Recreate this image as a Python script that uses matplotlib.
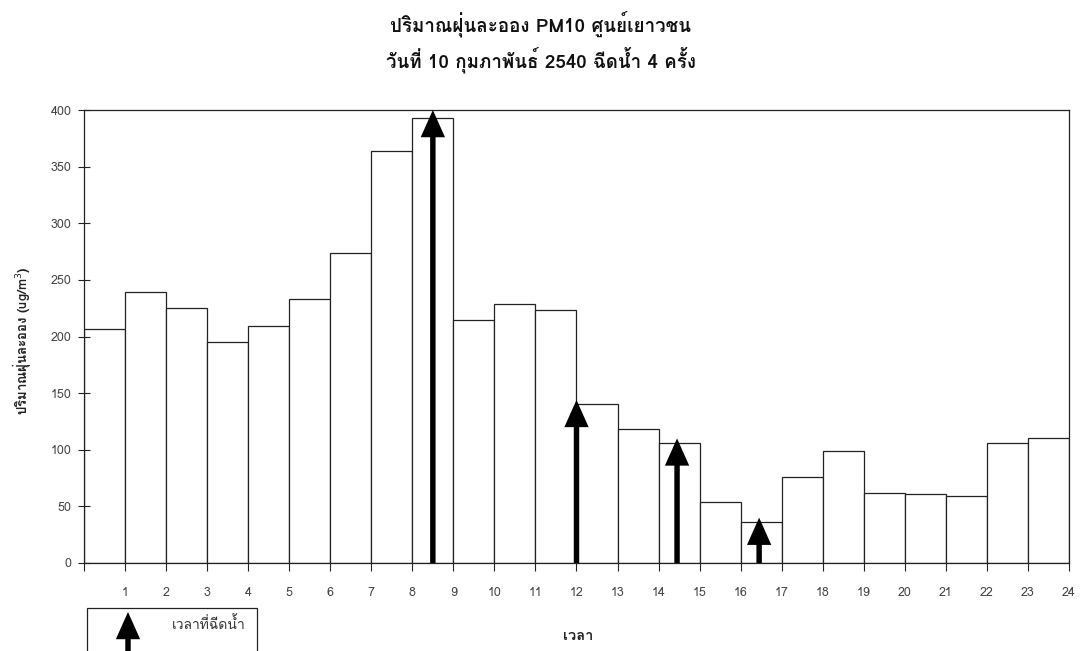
import matplotlib
matplotlib.use("Agg")
import matplotlib.pyplot as plt
from matplotlib import font_manager
from matplotlib.ft2font import FT2Font
from matplotlib.patches import Rectangle, FancyArrowPatch

# PM10 per hour (bar i covers hour i-1 .. i)
hours = list(range(1, 25))
pm10 = [207, 239, 225, 195, 209, 233, 274, 364, 393, 215, 229, 223,
        140, 118, 106, 54, 36, 76, 99, 62, 61, 59, 106, 110]

# times water was sprayed, and the arrow height
spray_time = [8.5, 12, 14.45, 16.45]
spray_tip = [400, 144, 110, 40]

title = "ปริมาณฝุ่นละออง PM10 ศูนย์เยาวชน\nวันที่ 10 กุมภาพันธ์ 2540 ฉีดน้ำ 4 ครั้ง"
ylabel = "ปริมาณฝุ่นละออง (ug/m$^3$)"
xlabel = "เวลา"
legend_text = "เวลาที่ฉีดน้ำ"


def thai_font():
    names = []
    for f in font_manager.fontManager.ttflist:
        try:
            if 0x0E01 in FT2Font(f.fname).get_charmap():
                names.append(f.name)
        except Exception:
            pass
    if "Loma" in names:
        return "Loma"
    return names[0] if names else "DejaVu Sans"


plt.rcParams['font.family'] = [thai_font(), 'DejaVu Sans']

fig = plt.figure(figsize=(10.81, 6.51), dpi=100)
ax = fig.add_axes([0.0777, 0.1352, 0.9112, 0.6958])

ax.bar([h - 0.5 for h in hours], pm10, width=1.0, color="white",
       edgecolor="#222222", linewidth=0.9)

arrow_style = "simple,head_length=1.4,head_width=1.25,tail_width=0.28"
for x, tip in zip(spray_time, spray_tip):
    ax.annotate("", xy=(x, tip), xytext=(x, 0),
                arrowprops=dict(arrowstyle=arrow_style, mutation_scale=14,
                                fc="black", ec="none", shrinkA=0, shrinkB=0))

ax.set_xlim(0, 24)
ax.set_ylim(0, 400)
ax.set_xticks(range(0, 25))
ax.set_xticklabels([""] + [str(h) for h in hours])
ax.set_yticks(range(0, 401, 50))
ax.tick_params(axis="x", direction="out", length=6, width=0.8, pad=11,
               labelsize=9, labelcolor="#444444", color="#222222")
ax.tick_params(axis="y", direction="inout", length=8, width=0.8, pad=5,
               labelsize=9, labelcolor="#444444", color="#222222")
for s in ax.spines.values():
    s.set_linewidth(0.9)
    s.set_color("#222222")

ax.set_ylabel(ylabel, fontsize=9.5, fontweight="bold", color="#222222")
ax.yaxis.set_label_coords(-0.052, 0.49)
ax.set_xlabel(xlabel, fontsize=10.5, fontweight="bold", color="#222222")
ax.xaxis.set_label_coords(0.502, -0.146)

fig.text(0.5, 1 - 42 / 651, title, ha="center", va="center", fontsize=13.5,
         fontweight="bold", linespacing=1.45, color="#111111")

# hand-made legend box at bottom left, cut by the figure edge
fig.patches.append(Rectangle((87 / 1081, -0.05), 170 / 1081, 0.05 + 43 / 651,
                             transform=fig.transFigure, fill=False,
                             edgecolor="#222222", linewidth=0.9))
fig.patches.append(FancyArrowPatch((128 / 1081, -0.05), (128 / 1081, 1 - 612 / 651),
                                   transform=fig.transFigure,
                                   arrowstyle=arrow_style, mutation_scale=14,
                                   fc="black", ec="none", shrinkA=0, shrinkB=0))
fig.text(209 / 1081, 1 - 624 / 651, legend_text, ha="center", va="center",
         fontsize=10, color="#333333")

fig.savefig("out.png", dpi=100)
